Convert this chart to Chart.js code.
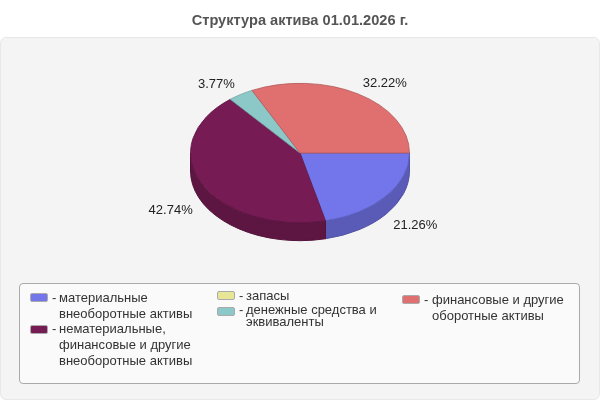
<!DOCTYPE html>
<html lang="ru">
<head>
<meta charset="utf-8">
<title>Структура актива</title>
<script src="https://cdn.jsdelivr.net/npm/chart.js@4/dist/chart.umd.min.js"></script>
<style>
    html, body { margin: 0; padding: 0; background: #fff; }
    body { position: relative; width: 600px; height: 400px; overflow: hidden; font-family: "Liberation Sans", Arial, sans-serif; }
    #panel { position: absolute; left: 0; top: 37px; width: 598px; height: 361px; background: #f4f4f4; border: 1px solid #e8e8e8; border-radius: 6px; }
    #legend { position: absolute; left: 19px; top: 283px; width: 559px; height: 99px; background: #fafafa; border: 1px solid #aaa; border-radius: 4px; }
    #chart { position: absolute; left: 0; top: 0; }
    .item { position: absolute; width: 140px; padding-left: 0; font-size: 13px; color: #333; }
    .swatch { position: absolute; width: 16px; height: 7px; border: 1px solid #aaa; border-radius: 2px; }
    .dash { position: absolute; }
</style>
</head>
<body>
<div id="panel"></div>
<div id="legend"></div>
<canvas id="chart" width="600" height="400"></canvas>
<script>
var chartTitle = 'Структура актива 01.01.2026 г.';
var categories = [
    'материальные внеоборотные активы',
    'запасы',
    'нематериальные, финансовые и другие внеоборотные активы',
    'денежные средства и эквиваленты',
    'финансовые и другие оборотные активы'
];
var shares = [21.26, 0, 42.74, 3.77, 32.22];
var sliceColors = ['#7375eb', '#e6e696', '#771b55', '#8cc8c8', '#e07070'];

// Legend cells, same order as categories.
var legendCells = [
    { left: 59, top: 290, line: 15.8, swatchTop: 293, swatchLeft: 30, dashLeft: 52 },
    { left: 246, top: 288, line: 15.8, swatchTop: 291, swatchLeft: 217, dashLeft: 239 },
    { left: 59, top: 321, line: 15.8, swatchTop: 325, swatchLeft: 30, dashLeft: 52 },
    { left: 246, top: 304, line: 12, swatchTop: 307, swatchLeft: 217, dashLeft: 239 },
    { left: 432, top: 292, line: 15.8, swatchTop: 295, swatchLeft: 402, dashLeft: 424 }
];

var SQUASH = 70 / 110;
var DEPTH = 18;

function shade(hex, k) {
    var n = parseInt(hex.slice(1), 16);
    var r = Math.round((n >> 16 & 255) * k);
    var g = Math.round((n >> 8 & 255) * k);
    var b = Math.round((n & 255) * k);
    return 'rgb(' + r + ',' + g + ',' + b + ')';
}

// Tilts the flat pie and gives it a side wall.
var tiltPlugin = {
    id: 'tilt',
    beforeDatasetsDraw: function (chart) {
        var ctx = chart.ctx;
        var arcs = chart.getDatasetMeta(0).data;
        ctx.save();
        arcs.forEach(function (arc, i) {
            var from = Math.max(arc.startAngle, 0);
            var to = Math.min(arc.endAngle, Math.PI);
            if (to <= from) {
                return;
            }
            var rx = arc.outerRadius;
            var ry = rx * SQUASH;
            ctx.beginPath();
            ctx.ellipse(arc.x, arc.y, rx, ry, 0, from, to);
            ctx.ellipse(arc.x, arc.y + DEPTH, rx, ry, 0, to, from, true);
            ctx.closePath();
            ctx.fillStyle = shade(sliceColors[i], 0.78);
            ctx.strokeStyle = shade(sliceColors[i], 0.7);
            ctx.lineWidth = 1;
            ctx.fill();
            ctx.stroke();
        });
        ctx.restore();

        var first = arcs[0];
        ctx.save();
        ctx.translate(first.x, first.y);
        ctx.scale(1, SQUASH);
        ctx.translate(-first.x, -first.y);
    },
    afterDatasetsDraw: function (chart) {
        var ctx = chart.ctx;
        ctx.restore();

        // Percent labels sit outside the ellipse, pushed out by their own width.
        ctx.save();
        ctx.font = '13px "Liberation Sans", Arial, sans-serif';
        ctx.fillStyle = '#222';
        ctx.textAlign = 'center';
        ctx.textBaseline = 'middle';
        chart.getDatasetMeta(0).data.forEach(function (arc, i) {
            if (!shares[i]) {
                return;
            }
            var mid = (arc.startAngle + arc.endAngle) / 2;
            var cos = Math.cos(mid);
            var sin = Math.sin(mid);
            var text = shares[i].toFixed(2) + '%';
            var half = ctx.measureText(text).width / 2;
            var x = arc.x - 0.5 + cos * arc.outerRadius * 1.09 + (cos > 0 ? half : -half);
            var y = arc.y + 2 + sin * 84 + (sin > 0 ? DEPTH : 0);
            ctx.fillText(text, x, y);
        });
        ctx.restore();
    }
};

new Chart(document.getElementById('chart'), {
    type: 'pie',
    data: {
        labels: categories,
        datasets: [{
            data: shares,
            backgroundColor: sliceColors,
            borderColor: sliceColors.map(function (c) { return shade(c, 0.8); }),
            borderWidth: 1
        }]
    },
    options: {
        responsive: false,
        animation: false,
        rotation: 90,
        devicePixelRatio: 1,
        layout: { padding: { left: 190, right: 190, top: 0, bottom: 137 } },
        plugins: {
            legend: { display: false },
            tooltip: { enabled: false },
            title: {
                display: true,
                text: chartTitle,
                color: '#555',
                font: { family: '"Liberation Sans", Arial, sans-serif', size: 14.6, weight: 'bold', lineHeight: 1.2 },
                padding: { top: 12, bottom: 13.5 }
            }
        }
    },
    plugins: [tiltPlugin]
});

// Legend is plain html, three uneven columns.
categories.forEach(function (name, i) {
    var cell = legendCells[i];
    var swatch = document.createElement('div');
    swatch.className = 'swatch';
    swatch.style.left = cell.swatchLeft + 'px';
    swatch.style.top = cell.swatchTop + 'px';
    swatch.style.background = sliceColors[i];
    document.body.appendChild(swatch);

    var dash = document.createElement('div');
    dash.className = 'item dash';
    dash.style.left = cell.dashLeft + 'px';
    dash.style.top = cell.top + 'px';
    dash.style.width = '6px';
    dash.style.lineHeight = cell.line + 'px';
    dash.textContent = '-';
    document.body.appendChild(dash);

    var item = document.createElement('div');
    item.className = 'item';
    item.style.left = cell.left + 'px';
    item.style.top = cell.top + 'px';
    item.style.lineHeight = cell.line + 'px';
    item.textContent = name;
    document.body.appendChild(item);
});
</script>
</body>
</html>
